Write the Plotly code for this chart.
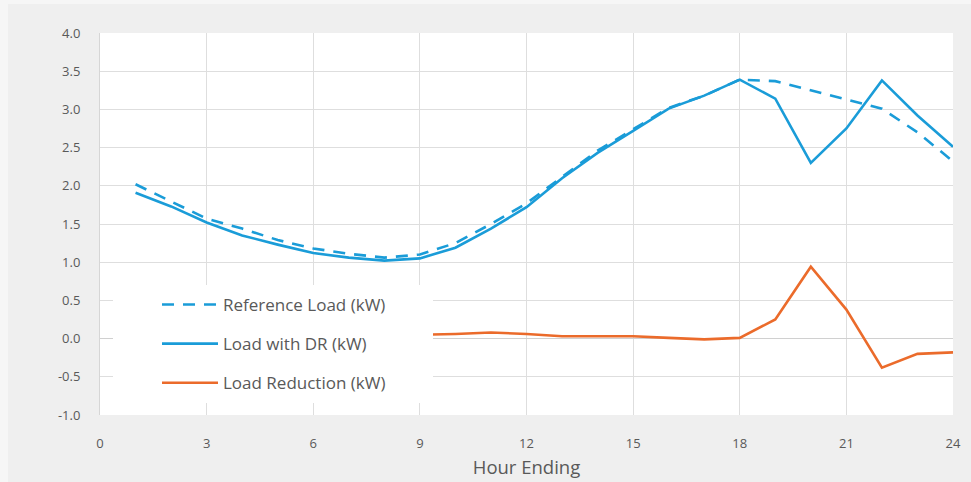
import plotly.graph_objects as go

hours = list(range(1, 25))
reference_load = [2.02, 1.80, 1.57, 1.44, 1.29, 1.18, 1.11, 1.06, 1.10, 1.25, 1.50, 1.77,
                  2.12, 2.46, 2.74, 3.02, 3.18, 3.39, 3.37, 3.25, 3.12, 3.01, 2.70, 2.32]
load_with_dr = [1.91, 1.73, 1.52, 1.35, 1.23, 1.12, 1.06, 1.02, 1.05, 1.19, 1.44, 1.72,
                2.10, 2.43, 2.72, 3.01, 3.18, 3.39, 3.14, 2.30, 2.75, 3.38, 2.92, 2.51]
load_reduction = [0.11, 0.07, 0.05, 0.09, 0.06, 0.06, 0.05, 0.04, 0.05, 0.06, 0.08, 0.06,
                  0.03, 0.03, 0.03, 0.01, -0.01, 0.01, 0.25, 0.94, 0.38, -0.38, -0.20, -0.18]
x_ticks = list(range(0, 25, 3))
y_ticks = [4.0, 3.5, 3.0, 2.5, 2.0, 1.5, 1.0, 0.5, 0.0, -0.5, -1.0]

BLUE = "#1a9cd8"
ORANGE = "#eb6b2b"
TXT = "#595959"
GRID = "#dedede"

fig = go.Figure()
fig.add_trace(go.Scatter(x=hours, y=reference_load, mode="lines", name="Reference Load (kW)",
                         legendgroup="a", line=dict(color=BLUE, width=2.6, dash="12px,9px")))
fig.add_trace(go.Scatter(x=hours, y=load_with_dr, mode="lines", name="Load with DR (kW)",
                         legendgroup="b", line=dict(color=BLUE, width=2.6)))
fig.add_trace(go.Scatter(x=hours, y=load_reduction, mode="lines", name="Load Reduction (kW)",
                         legendgroup="c", line=dict(color=ORANGE, width=2.6)))

L, R, T, B = 100, 18, 33, 67
W, H = 971, 482
pw, ph = W - L - R, H - T - B

def px_x(p):
    return (p - L) / pw

def px_y(p):
    return (H - B - p) / ph

fig.update_layout(
    width=W, height=H,
    margin=dict(l=L, r=R, t=T, b=B, autoexpand=False),
    paper_bgcolor="#efefef",
    plot_bgcolor="#ffffff",
    font=dict(family="Open Sans, sans-serif", color=TXT),
    showlegend=True,
    legend=dict(
        x=px_x(157), y=px_y(287), xanchor="left", yanchor="top",
        bgcolor="rgba(0,0,0,0)", borderwidth=0,
        font=dict(size=17, color=TXT),
        tracegroupgap=14, itemwidth=56,
        traceorder="grouped",
    ),
    xaxis=dict(
        range=[0, 24], tickvals=x_ticks, ticktext=[str(v) for v in x_ticks],
        showgrid=True, gridcolor=GRID, gridwidth=1, zeroline=False, automargin=False,
        showline=False, ticks="outside", ticklen=16, tickcolor="rgba(0,0,0,0)",
        tickfont=dict(size=13, color=TXT),
        title=dict(text="Hour Ending", font=dict(size=18.5, color=TXT), standoff=10),
    ),
    yaxis=dict(
        range=[-1, 4], tickvals=y_ticks, ticktext=[f"{v:.1f}" for v in y_ticks],
        showgrid=True, gridcolor=GRID, gridwidth=1, zeroline=True, zerolinecolor="#d0d0d0",
        zerolinewidth=1, showline=True, linecolor="#d6d6d6", linewidth=1, automargin=False,
        ticks="outside", ticklen=16, tickcolor="rgba(0,0,0,0)",
        tickfont=dict(size=13, color=TXT),
    ),
    shapes=[
        dict(type="rect", xref="paper", yref="paper", layer="above",
             x0=px_x(113), x1=px_x(433), y0=px_y(403), y1=px_y(285),
             fillcolor="#ffffff", line=dict(width=0)),
        dict(type="rect", xref="paper", yref="paper", layer="below",
             x0=px_x(0), x1=px_x(8), y0=px_y(H), y1=px_y(0),
             fillcolor="#f6f6f6", line=dict(width=0)),
        dict(type="rect", xref="paper", yref="paper", layer="below",
             x0=px_x(0), x1=px_x(W), y0=px_y(4), y1=px_y(0),
             fillcolor="#f6f6f6", line=dict(width=0)),
    ],
)

fig.write_html("out.html")
